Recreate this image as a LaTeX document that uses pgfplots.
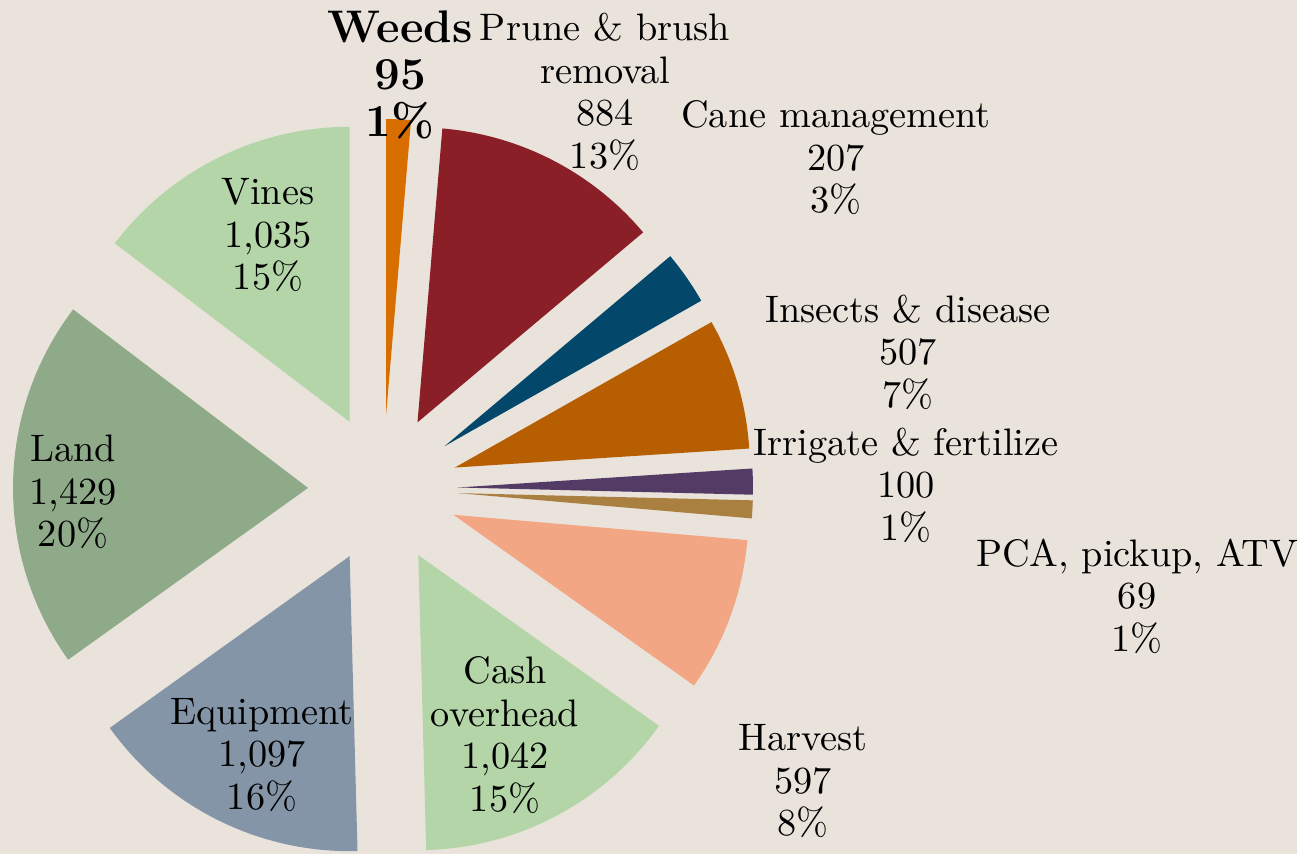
\documentclass[border=0pt]{standalone}
\usepackage{fontspec}
\usepackage{pgfplots}
\usepackage{pgfplotstable}
\pgfplotsset{compat=1.18}

\definecolor{bgcol}{HTML}{E9E3DB}
\definecolor{c0}{HTML}{D96E00}
\definecolor{c1}{HTML}{8B1F28}
\definecolor{c2}{HTML}{03486B}
\definecolor{c3}{HTML}{B65E00}
\definecolor{c4}{HTML}{533B66}
\definecolor{c5}{HTML}{A98040}
\definecolor{c6}{HTML}{F2A684}
\definecolor{c7}{HTML}{B3D5A8}
\definecolor{c8}{HTML}{8595A8}
\definecolor{c9}{HTML}{8FAA89}
\definecolor{c10}{HTML}{B3D5A8}

% cost per acre, clockwise from 12 o'clock
\pgfplotstableread[col sep=comma]{
item,value
Weeds,95
Prune,884
Cane,207
Insects,507
Irrigate,100
PCA,69
Harvest,597
Cash,1042
Equipment,1097
Land,1429
Vines,1035
}\costdata

\pgfplotstablegetrowsof{\costdata}
\pgfmathtruncatemacro\nlast{\pgfplotsretval-1}
\def\total{0}
\pgfplotsforeachungrouped \i in {0,...,\nlast}{%
  \pgfplotstablegetelem{\i}{value}\of\costdata
  \pgfmathsetmacro\total{\total+\pgfplotsretval}%
}
\def\cum{0}
\pgfplotsforeachungrouped \i in {0,...,\nlast}{%
  \pgfplotstablegetelem{\i}{value}\of\costdata
  \pgfmathsetmacro\angA{\cum/\total*360}%
  \pgfmathsetmacro\cum{\cum+\pgfplotsretval}%
  \pgfmathsetmacro\angB{\cum/\total*360}%
  \expandafter\xdef\csname angA\i\endcsname{\angA}%
  \expandafter\xdef\csname angB\i\endcsname{\angB}%
}

\def\cx{383}
\def\cy{365}
\def\explode{75}
\def\rad{2.95cm}

% values are expanded now, since pgfplots runs the path later
\newcommand\slice[1]{%
  \pgfmathsetmacro\sA{\csname angA#1\endcsname}%
  \pgfmathsetmacro\sB{\csname angB#1\endcsname}%
  \pgfmathsetmacro\px{\cx+\explode*sin((\sA+\sB)/2)}%
  \pgfmathsetmacro\py{\cy+\explode*cos((\sA+\sB)/2)}%
  \pgfmathsetmacro\tA{90-\sA}%
  \pgfmathsetmacro\tB{90-\sB}%
  \edef\temp{\noexpand\fill[c#1] (axis cs:\px,\py)
    -- ++(\tA:\rad) arc[start angle=\tA, end angle=\tB, radius=\rad] -- cycle;}%
  \temp
}
\newcommand\lab[3]{\node[align=center, font=\fontsize{10.9}{12.1}\selectfont] at (axis cs:#1,#2) {#3};}

\begin{document}
\begin{tikzpicture}
\begin{axis}[
    width=12.97cm, height=8.54cm, scale only axis,
    xmin=0, xmax=1297, ymin=0, ymax=854,
    hide axis, clip=false,
]
\fill[bgcol] (axis cs:0,0) rectangle (axis cs:1297,854);
\pgfplotsinvokeforeach{0,...,10}{\slice{#1}}

\node[align=center, font=\fontsize{13}{13.4}\selectfont\bfseries] at (axis cs:400,779) {Weeds\\95\\1\%};
\lab{605}{762}{Prune \& brush\\removal\\884\\13\%}
\lab{836}{696}{Cane management\\207\\3\%}
\lab{908}{502}{Insects \& disease\\507\\7\%}
\lab{906}{369}{Irrigate \& fertilize\\100\\1\%}
\lab{1137}{258}{PCA, pickup, ATV\\69\\1\%}
\lab{803}{73}{Harvest\\597\\8\%}
\lab{505}{119}{Cash\\overhead\\1,042\\15\%}
\lab{262}{99}{Equipment\\1,097\\16\%}
\lab{73}{362}{Land\\1,429\\20\%}
\lab{268}{619}{Vines\\1,035\\15\%}
\end{axis}
\pgfresetboundingbox
\path (current axis.south west) rectangle (current axis.north east);
\end{tikzpicture}
\end{document}
